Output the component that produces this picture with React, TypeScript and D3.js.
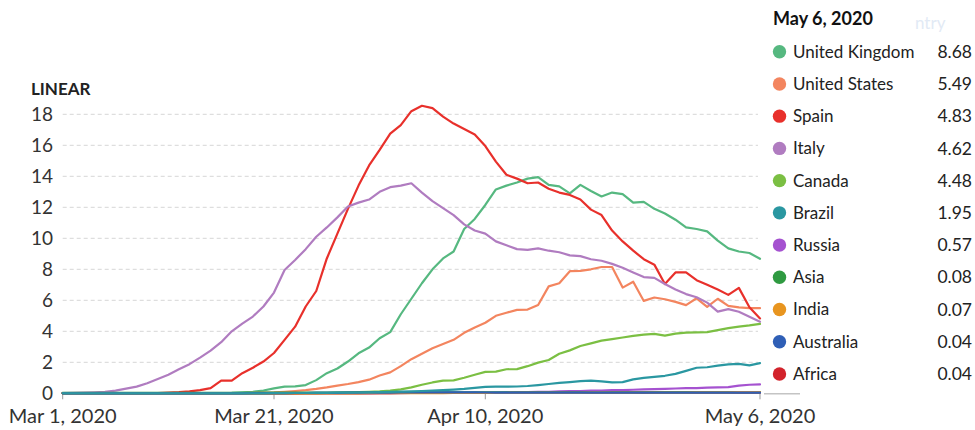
import React from "react";
import * as d3 from "d3";

const START = new Date(Date.UTC(2020, 2, 1));
const N_DAYS = 67;
const dates = d3.range(N_DAYS).map((i) => d3.utcDay.offset(START, i));

const xTickDates = [
  new Date(Date.UTC(2020, 2, 1)),
  new Date(Date.UTC(2020, 2, 21)),
  new Date(Date.UTC(2020, 3, 10)),
  new Date(Date.UTC(2020, 4, 6)),
];
const xTickLabels = ["Mar 1, 2020", "Mar 21, 2020", "Apr 10, 2020", "May 6, 2020"];
const yTicks = [0, 2, 4, 6, 8, 10, 12, 14, 16, 18];

const names = [
  "United Kingdom", "United States", "Spain", "Italy", "Canada", "Brazil",
  "Russia", "Asia", "India", "Australia", "Africa",
];
const colors = [
  "#56b880", "#f3855f", "#e8302b", "#b07cc0", "#7bbf43", "#2a97a1",
  "#a552d0", "#2f9a41", "#e8951f", "#2f5fb6", "#d2232b",
];
const latest = ["8.68", "5.49", "4.83", "4.62", "4.48", "1.95", "0.57", "0.08", "0.07", "0.04", "0.04"];

const unitedKingdom = [
  0, 0, 0, 0, 0, 0, 0, 0, 0, 0, 0, 0, 0, 0, 0.01, 0.02,
  0.03, 0.06, 0.1, 0.18, 0.32, 0.43, 0.45, 0.53, 0.85, 1.3, 1.6, 2.05, 2.58, 2.95,
  3.55, 3.95, 5.1, 6.1, 7.1, 8.0, 8.7, 9.15, 10.6, 11.25, 12.15, 13.15, 13.4, 13.6,
  13.85, 13.95, 13.45, 13.35, 12.9, 13.45, 13.05, 12.7, 12.95, 12.85, 12.3, 12.35,
  11.9, 11.6, 11.2, 10.7, 10.6, 10.45, 9.85, 9.35, 9.15, 9.05, 8.68,
];
const unitedStates = [
  0, 0, 0, 0, 0, 0, 0, 0, 0, 0, 0, 0, 0, 0, 0, 0.01, 0.01, 0.02, 0.03,
  0.04, 0.06, 0.1, 0.15, 0.2, 0.28, 0.38, 0.5, 0.6, 0.72, 0.88, 1.15, 1.35, 1.75,
  2.2, 2.55, 2.9, 3.18, 3.45, 3.9, 4.25, 4.55, 5.0, 5.2, 5.38, 5.4, 5.7, 6.9, 7.1,
  7.88, 7.9, 8.0, 8.15, 8.15, 6.82, 7.2, 5.96, 6.18, 6.07, 5.9, 5.69, 6.13, 5.57,
  6.1, 5.64, 5.54, 5.5, 5.49,
];
const spain = [
  0, 0, 0, 0, 0, 0, 0, 0, 0, 0.02, 0.04, 0.07, 0.12, 0.2, 0.33, 0.82, 0.82, 1.3,
  1.65, 2.05, 2.6, 3.45, 4.3, 5.6, 6.6, 8.7, 10.3, 11.9, 13.4, 14.7, 15.7, 16.75,
  17.3, 18.2, 18.55, 18.4, 17.85, 17.4, 17.05, 16.7, 15.95, 14.95, 14.1, 13.85,
  13.55, 13.6, 13.2, 12.95, 12.8, 12.5, 11.85, 11.5, 10.5, 9.8, 9.2, 8.65, 8.3,
  7.05, 7.8, 7.8, 7.3, 7.0, 6.7, 6.35, 6.8, 5.55, 4.83,
];
const italy = [
  0.02, 0.03, 0.04, 0.06, 0.09, 0.17, 0.3, 0.43, 0.65, 0.92, 1.2, 1.55, 1.88, 2.3,
  2.75, 3.3, 4.0, 4.5, 4.95, 5.6, 6.5, 7.95, 8.6, 9.3, 10.1, 10.7, 11.35, 12.05,
  12.3, 12.5, 13.0, 13.3, 13.4, 13.55, 12.95, 12.4, 11.95, 11.5, 10.9, 10.5, 10.3,
  9.8, 9.55, 9.3, 9.25, 9.35, 9.2, 9.1, 8.9, 8.85, 8.65, 8.55, 8.35, 8.1, 7.8, 7.5,
  7.45, 7.05, 6.7, 6.4, 6.2, 5.85, 5.27, 5.43, 5.26, 4.94, 4.62,
];
const canada = [
  0, 0, 0, 0, 0, 0, 0, 0, 0, 0, 0, 0, 0, 0, 0, 0, 0, 0, 0, 0, 0, 0, 0, 0, 0,
  0.02, 0.04, 0.06, 0.08, 0.1, 0.12, 0.17, 0.25, 0.38, 0.55, 0.7, 0.82, 0.83, 1.0,
  1.2, 1.38, 1.4, 1.55, 1.56, 1.75, 1.98, 2.15, 2.55, 2.77, 3.05, 3.22, 3.4, 3.5,
  3.6, 3.7, 3.78, 3.83, 3.72, 3.85, 3.92, 3.93, 3.95, 4.08, 4.2, 4.3, 4.38, 4.48,
];
const brazil = [
  0, 0, 0, 0, 0, 0, 0, 0, 0, 0, 0, 0, 0, 0, 0, 0, 0, 0, 0, 0, 0.01, 0.01, 0.02,
  0.02, 0.03, 0.03, 0.04, 0.04, 0.05, 0.06, 0.08, 0.09, 0.11, 0.13, 0.15, 0.18,
  0.21, 0.24, 0.28, 0.35, 0.41, 0.43, 0.43, 0.44, 0.47, 0.53, 0.6, 0.67, 0.72, 0.78,
  0.82, 0.77, 0.71, 0.72, 0.9, 1.0, 1.06, 1.13, 1.25, 1.45, 1.65, 1.68, 1.78, 1.87,
  1.9, 1.8, 1.95,
];
const russia = [
  0, 0, 0, 0, 0, 0, 0, 0, 0, 0, 0, 0, 0, 0, 0, 0, 0, 0, 0, 0, 0, 0, 0, 0, 0, 0, 0,
  0, 0, 0, 0.01, 0.01, 0.01, 0.02, 0.02, 0.02, 0.03, 0.03, 0.03, 0.04, 0.04, 0.05,
  0.06, 0.07, 0.08, 0.09, 0.1, 0.12, 0.14, 0.15, 0.17, 0.18, 0.2, 0.21, 0.23, 0.25,
  0.27, 0.29, 0.31, 0.33, 0.34, 0.36, 0.38, 0.4, 0.5, 0.55, 0.57,
];
const asia = [
  0.03, 0.03, 0.03, 0.03, 0.03, 0.03, 0.03, 0.03, 0.03, 0.03, 0.03, 0.03, 0.03,
  0.03, 0.03, 0.03, 0.03, 0.03, 0.03, 0.04, 0.04, 0.04, 0.04, 0.04, 0.04, 0.05,
  0.05, 0.05, 0.05, 0.05, 0.05, 0.05, 0.05, 0.06, 0.06, 0.06, 0.06, 0.06, 0.06,
  0.06, 0.06, 0.06, 0.06, 0.06, 0.06, 0.06, 0.06, 0.06, 0.06, 0.06, 0.06, 0.06,
  0.07, 0.07, 0.07, 0.07, 0.07, 0.07, 0.07, 0.07, 0.07, 0.07, 0.08, 0.08, 0.08,
  0.08, 0.08,
];
const india = [
  0, 0, 0, 0, 0, 0, 0, 0, 0, 0, 0, 0, 0, 0, 0, 0, 0, 0, 0, 0, 0, 0, 0, 0, 0, 0,
  0, 0, 0, 0.01, 0.01, 0.01, 0.01, 0.01, 0.01, 0.01, 0.01, 0.02, 0.02, 0.02, 0.02,
  0.02, 0.02, 0.03, 0.03, 0.03, 0.03, 0.03, 0.03, 0.03, 0.04, 0.04, 0.04, 0.04,
  0.04, 0.05, 0.05, 0.05, 0.05, 0.05, 0.06, 0.06, 0.06, 0.06, 0.07, 0.07, 0.07,
];
const australia = [
  0, 0, 0, 0, 0, 0, 0, 0, 0, 0, 0, 0, 0, 0, 0, 0, 0, 0, 0.01, 0.01, 0.01, 0.01,
  0.02, 0.02, 0.03, 0.03, 0.03, 0.04, 0.04, 0.05, 0.05, 0.05, 0.06, 0.06, 0.06,
  0.06, 0.06, 0.06, 0.06, 0.06, 0.05, 0.05, 0.05, 0.05, 0.05, 0.05, 0.04, 0.04,
  0.04, 0.04, 0.04, 0.04, 0.04, 0.04, 0.04, 0.04, 0.04, 0.04, 0.04, 0.04, 0.04,
  0.04, 0.04, 0.04, 0.04, 0.04, 0.04,
];
const africa = [
  0, 0, 0, 0, 0, 0, 0, 0, 0, 0, 0, 0, 0, 0, 0, 0, 0, 0, 0, 0, 0, 0, 0, 0.01,
  0.01, 0.01, 0.01, 0.01, 0.01, 0.01, 0.01, 0.01, 0.02, 0.02, 0.02, 0.02, 0.02,
  0.02, 0.02, 0.02, 0.02, 0.02, 0.02, 0.02, 0.02, 0.03, 0.03, 0.03, 0.03, 0.03,
  0.03, 0.03, 0.03, 0.03, 0.03, 0.03, 0.03, 0.03, 0.04, 0.04, 0.04, 0.04, 0.04,
  0.04, 0.04, 0.04, 0.04,
];

const seriesValues = [
  unitedKingdom, unitedStates, spain, italy, canada, brazil,
  russia, asia, india, australia, africa,
];

// drawing order (indices into names): Brazil ends up on top along the baseline
const drawOrder = [0, 1, 2, 3, 4, 6, 10, 7, 8, 9, 5];

const FONT = "Lato, 'Noto Sans', sans-serif";

export default function App() {
  const x = d3
    .scaleUtc()
    .domain([dates[0], dates[N_DAYS - 1]])
    .range([62.7, 760]);
  const y = d3.scaleLinear().domain([0, 18]).range([393.3, 114.3]);
  const line = d3
    .line<number>()
    .x((_, i) => x(dates[i]))
    .y((v) => y(v));

  const legendRow = d3.scaleLinear().domain([0, 10]).range([51.7, 374]);

  return (
    <svg
      width={975}
      height={430}
      style={{ position: "fixed", left: 0, top: 0, background: "#fff" }}
      fontFamily={FONT}
    >
      <rect width={975} height={430} fill="#fff" />
      <text x={915} y={29} fontSize={17} fill="#e2eaf5">ntry</text>

      {yTicks.filter((t) => t > 0).map((t) => (
        <line
          key={t}
          x1={62.7}
          x2={758}
          y1={y(t)}
          y2={y(t)}
          stroke="#d6d6d6"
          strokeWidth={1}
          strokeDasharray="4,3"
        />
      ))}
      <line x1={62.7} x2={760} y1={y(0)} y2={y(0)} stroke="#999" strokeWidth={1} />
      <line x1={764} x2={800} y1={y(0) + 0.5} y2={y(0) + 0.5} stroke="#c4c4c4" strokeWidth={1.5} />

      {yTicks.map((t) => (
        <text
          key={t}
          x={53}
          y={y(t)}
          dy="0.35em"
          textAnchor="end"
          fontSize={19}
          fill="#333"
        >
          {t}
        </text>
      ))}
      <text x={31} y={95} fontSize={17} fontWeight={700} fill="#222">LINEAR</text>

      {xTickDates.map((d, i) => (
        <g key={i}>
          <line x1={x(d)} x2={x(d)} y1={y(0)} y2={y(0) + 6} stroke="#999" strokeWidth={1} />
          <text x={x(d)} y={423} textAnchor="middle" fontSize={20} fill="#333">
            {xTickLabels[i]}
          </text>
        </g>
      ))}

      {drawOrder.map((i) => (
        <path
          key={names[i]}
          d={line(seriesValues[i]) || ""}
          fill="none"
          stroke={colors[i]}
          strokeWidth={2.2}
          strokeLinejoin="round"
          strokeLinecap="round"
        />
      ))}

      <text x={773} y={25} fontSize={18} fontWeight={700} fill="#111">May 6, 2020</text>
      {names.map((n, i) => (
        <g key={n} transform={`translate(0,${legendRow(i)})`}>
          <circle cx={779.5} cy={0} r={6.7} fill={colors[i]} />
          <text x={793} y={0} dy="0.35em" fontSize={17} fill="#222">{n}</text>
          <text x={972} y={0} dy="0.35em" fontSize={17.5} textAnchor="end" fill="#222">
            {latest[i]}
          </text>
        </g>
      ))}
    </svg>
  );
}
